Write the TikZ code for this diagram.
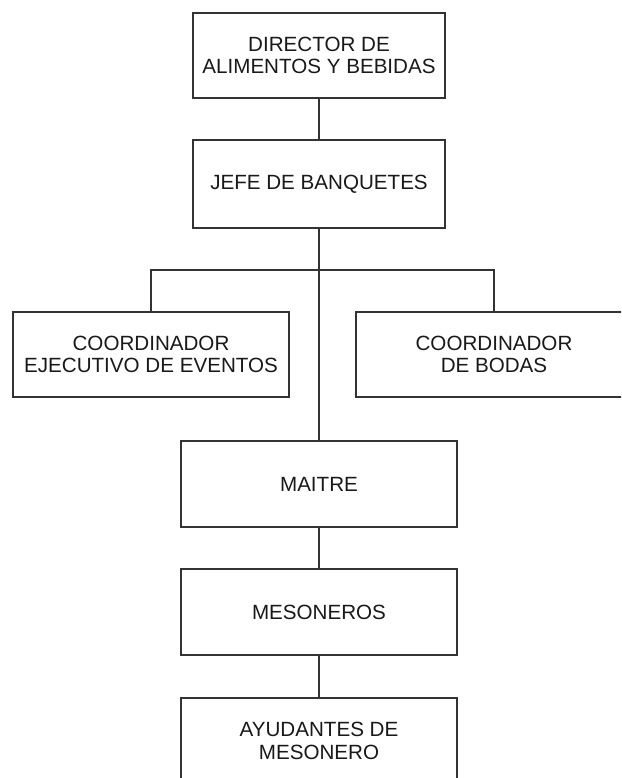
\documentclass[tikz,border=0pt]{standalone}
\usepackage{fontspec}
\setmainfont{Liberation Sans}
\begin{document}
\begin{tikzpicture}[x=1pt,y=-1pt,
  orgbox/.style={draw=black!80, line width=1.6pt, fill=white, inner sep=0pt,
    align=center, text=black!90, font=\fontsize{20.6}{22.5}\selectfont},
  wbox/.style={orgbox, minimum width=252pt, minimum height=86pt},
  nbox/.style={orgbox, minimum width=276pt, minimum height=86pt},
  link/.style={draw=black!80, line width=1.6pt}]
\useasboundingbox (0,0) rectangle (621,778);
\clip (0,0) rectangle (621,778);
\fill[white] (0,0) rectangle (621,778);
\node[wbox, minimum height=85pt] (dir) at (319,55.5) {DIRECTOR DE\\ALIMENTOS Y BEBIDAS};
\node[wbox, minimum height=88pt] (jefe) at (319,184) {JEFE DE BANQUETES};
\node[nbox, minimum height=85pt] (ce) at (151,354.5) {COORDINADOR\\EJECUTIVO DE EVENTOS};
\node[nbox, minimum height=85pt] (cb) at (494,354.5) {COORDINADOR\\DE BODAS};
\node[nbox] (mai) at (319,484) {MAITRE};
\node[nbox] (mes) at (319,612) {MESONEROS};
\node[nbox] (ayu) at (319,741) {AYUDANTES DE\\MESONERO};
\coordinate (br) at (319,270);
\draw[link] (dir.south) -- (jefe.north);
\draw[link] (jefe.south) -- (br) -- (mai.north);
\draw[link] (ce.north) |- (br) -| (cb.north);
\draw[link] (mai.south) -- (mes.north);
\draw[link] (mes.south) -- (ayu.north);
\end{tikzpicture}
\end{document}
